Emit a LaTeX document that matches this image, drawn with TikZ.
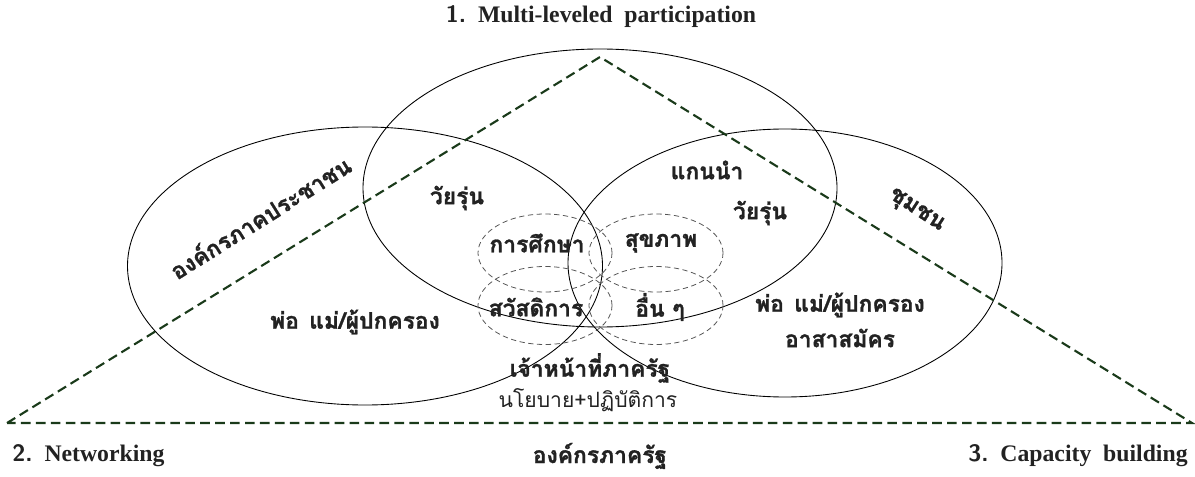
\documentclass[tikz,border=0pt]{standalone}
\usepackage{fontspec}
\setmainfont{Liberation Serif}
\newfontfamily\thaifont[Script=Thai, BoldFeatures={FakeBold=1.2}]{Loma}
\usetikzlibrary{positioning}
\definecolor{tri}{HTML}{1A3A1A}
\definecolor{ink}{HTML}{222222}
\definecolor{petal}{HTML}{555555}

\begin{document}
\begin{tikzpicture}[
    every node/.style={inner sep=0pt},
    ring/.style={black, line width=0.5pt},
    petalline/.style={petal, line width=0.45pt, dash pattern=on 3pt off 2pt},
    triline/.style={tri, line width=1.2pt, dash pattern=on 5.5pt off 3pt},
    th/.style={font=\thaifont\bfseries\fontsize{13}{15}\selectfont, text=ink},
    thsmall/.style={font=\thaifont\fontsize{12}{14}\selectfont, text=ink},
    head/.style={font=\bfseries\fontsize{13.5}{16}\selectfont, text=ink},
]
\useasboundingbox (0,0) rectangle (23.9,9.52);

% the three sectors
\draw[ring] (12.00,5.76) ellipse [x radius=4.74, y radius=2.78];
\draw[ring] (7.30,4.20) ellipse [x radius=4.75, y radius=2.78];
\draw[ring] (15.70,4.26) ellipse [x radius=4.34, y radius=2.68];

% four issue petals in the middle
\foreach \x/\y in {10.90/4.46, 13.12/4.46, 10.90/3.41, 13.12/3.41}{
    \draw[petalline] (\x,\y) ellipse [x radius=1.34, y radius=0.78];
}

% the triangle of strategies
\coordinate (apex) at (12.00,8.38);
\coordinate (netw) at (0.14,1.06);
\coordinate (capb) at (23.84,1.06);
\draw[triline] (netw) -- (apex) -- (capb) -- cycle;

% corner titles
\node[head] (multi) at (12.02,9.18) {{\sffamily 1.}\ \ Multi-leveled\ \ participation};
\node[head, anchor=west] (network) at (0.24,0.40) {{\sffamily 2.}\ \ Networking};
\node[head, anchor=east] (capacity) at (23.76,0.40) {{\sffamily 3.}\ \ Capacity\ \ building};
\node[th] (stateorg) at (12.00,0.40) {องค์กรภาครัฐ};

% sector labels
\node[th, rotate=32] (civil) at (5.20,5.18) {องค์กรภาคประชาชน};
\node[th, rotate=-33] (commun) at (18.32,5.30) {ชุมชน};
\node[th] (youthl) at (9.14,5.56) {วัยรุ่น};
\node[th] (leader) at (14.14,6.12) {แกนนำ};
\node[th] (youthr) at (15.20,5.26) {วัยรุ่น};
\node[th] (parentl) at (7.10,3.08) {พ่อ\hspace{0.45em}แม่/ผู้ปกครอง};
\node[th] (parentr) at (16.80,3.42) {พ่อ\hspace{0.45em}แม่/ผู้ปกครอง};
\node[th] (volunt) at (16.80,2.76) {อาสาสมัคร};

% petal labels
\node[th] (edu) at (10.74,4.66) {การศึกษา};
\node[th] (health) at (13.22,4.66) {สุขภาพ};
\node[th] (welfare) at (10.72,3.38) {สวัสดิการ};
\node[th] (other) at (13.20,3.38) {อื่น ๆ};

\node[th] (officer) at (11.80,2.16) {เจ้าหน้าที่ภาครัฐ};
\node[thsmall] (policy) at (11.76,1.52) {นโยบาย+ปฏิบัติการ};
\end{tikzpicture}
\end{document}
